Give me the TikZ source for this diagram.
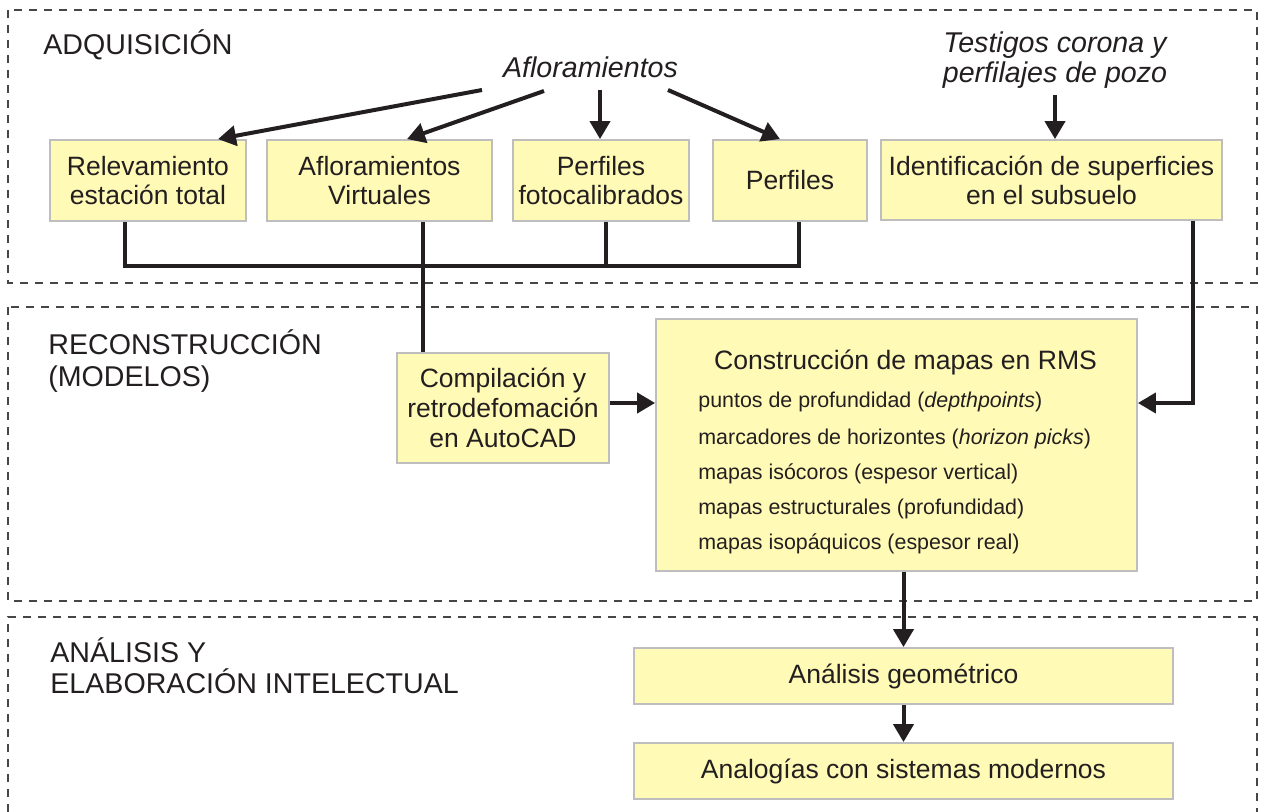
\documentclass[tikz,border=0pt]{standalone}
\usepackage{fontspec}
\setmainfont{Liberation Sans}
\usetikzlibrary{arrows.meta,calc}
\definecolor{boxfill}{RGB}{255,250,182}
\definecolor{boxline}{RGB}{190,190,190}
\definecolor{ink}{RGB}{35,31,32}
\definecolor{frameline}{RGB}{70,70,70}
\begin{document}
\begin{tikzpicture}[x=0.5pt,y=-0.5pt,
  box/.style={draw=boxline,line width=0.9pt,fill=boxfill,inner sep=0pt,align=center,text=ink,font=\fontsize{13.25}{14.5}\selectfont},
  frame/.style={draw=frameline,line width=0.6pt,dash pattern=on 4pt off 3.5pt},
  conn/.style={draw=ink,line width=2pt,line join=miter},
  arr/.style={conn,-{Triangle[length=9pt,width=10pt]}},
  head/.style={anchor=base west,inner sep=0pt,text=ink,font=\fontsize{14.3}{16}\selectfont},
  item/.style={anchor=base west,inner sep=0pt,text=ink,font=\fontsize{10.7}{12}\selectfont},
  src/.style={inner sep=0pt,text=ink,align=center,font=\fontsize{14.3}{15}\selectfont\itshape}]

\useasboundingbox[fill=white] (0,0) rectangle (1264,812);

% frames
\draw[frame] (8,10) rectangle (1257,283);
\draw[frame] (8,307) rectangle (1257,601);
\draw[frame] (8,812) -- (8,617) -- (1257,617) -- (1257,812);

% headings
\node[head] (h1) at (43,55) {ADQUISICIÓN};
\node[head] (h2a) at (48,355) {RECONSTRUCCIÓN};
\node[head] (h2b) at (48,387) {(MODELOS)};
\node[head] (h3a) at (50,662) {ANÁLISIS Y};
\node[head] (h3b) at (50,693) {ELABORACIÓN INTELECTUAL};

% sources
\node[src,anchor=base] (aflo) at (590.5,78) {Afloramientos};
\node[src] (test) at (1055,60.5) {Testigos corona y\\perfilajes de pozo};

% boxes
\node[box,minimum width=98pt,minimum height=40.5pt] (rel) at (148,180.5) {Relevamiento\\estación total};
\node[box,minimum width=112.5pt,minimum height=40.5pt] (virt) at (379.5,180.5) {Afloramientos\\Virtuales};
\node[box,minimum width=88pt,minimum height=40.5pt] (fot) at (601,180.5) {Perfiles\\fotocalibrados};
\node[box,minimum width=77pt,minimum height=40.5pt] (perf) at (790,180.5) {Perfiles};
\node[box,minimum width=170.5pt,minimum height=40pt] (ident) at (1051.5,180) {Identificación de superficies\\en el subsuelo};
\node[box,minimum width=106pt,minimum height=55pt,font=\fontsize{13.25}{15}\selectfont] (comp) at (503,408) {Compilación y\\retrodefomación\\en AutoCAD};
\node[box,minimum width=240.5pt,minimum height=126pt] (cons) at (896.5,445) {};
\node[box,minimum width=269.5pt,minimum height=28pt] (anal) at (903.5,676) {Análisis geométrico};
\node[box,minimum width=269.5pt,minimum height=28pt] (analog) at (903.5,771) {Analogías con sistemas modernos};

% contents of construction box
\node[anchor=base,inner sep=0pt,text=ink,font=\fontsize{13.3}{15}\selectfont] (consh) at (905.5,370) {Construcción de mapas en RMS};
\node[item] (l1) at (698,408) {puntos de profundidad (\textit{depthpoints})};
\node[item] (l2) at (698,445) {marcadores de horizontes (\textit{horizon picks})};
\node[item] (l3) at (698,480) {mapas isócoros (espesor vertical)};
\node[item] (l4) at (698,515) {mapas estructurales (profundidad)};
\node[item] (l5) at (698,550) {mapas isopáquicos (espesor real)};

% helper coordinates
\coordinate (bus) at (0,266);
\coordinate (c1) at (125,0);
\coordinate (c2) at (423,0);
\coordinate (c3) at (606,0);
\coordinate (c4) at (799,0);
\coordinate (c5) at (1193,0);
\coordinate (c6) at (0,403);

% arrows from Afloramientos
\draw[arr] ($(aflo.base)+(-108.5,12)$) -- ($(rel.north)+(70,0)$);
\draw[arr] ($(aflo.base)+(-46.5,13)$) -- ($(virt.north)+(27.5,0)$);
\draw[arr] ($(aflo.base)+(9.5,12)$) -- ($(fot.north)+(-1,0)$);
\draw[arr] ($(aflo.base)+(77.5,12)$) -- ($(perf.north)+(-10,0)$);
\draw[arr] (test.south |- 0,95) -- (test.south |- ident.north);

% bus
\draw[conn] (rel.south -| c1) -- (c1 |- bus) -- (c4 |- bus) -- (perf.south -| c4);
\draw[conn] (fot.south -| c3) -- (c3 |- bus);
\draw[conn] (virt.south -| c2) -- (comp.north -| c2);

% to construction
\draw[arr] (comp.east |- c6) -- (cons.west |- c6);
\draw[arr] (ident.south -| c5) -- (c5 |- c6) -- (cons.east |- c6);

% analysis
\draw[arr] (cons.south -| anal.north) -- (anal.north);
\draw[arr] (anal.south) -- (analog.north);
\end{tikzpicture}
\end{document}
